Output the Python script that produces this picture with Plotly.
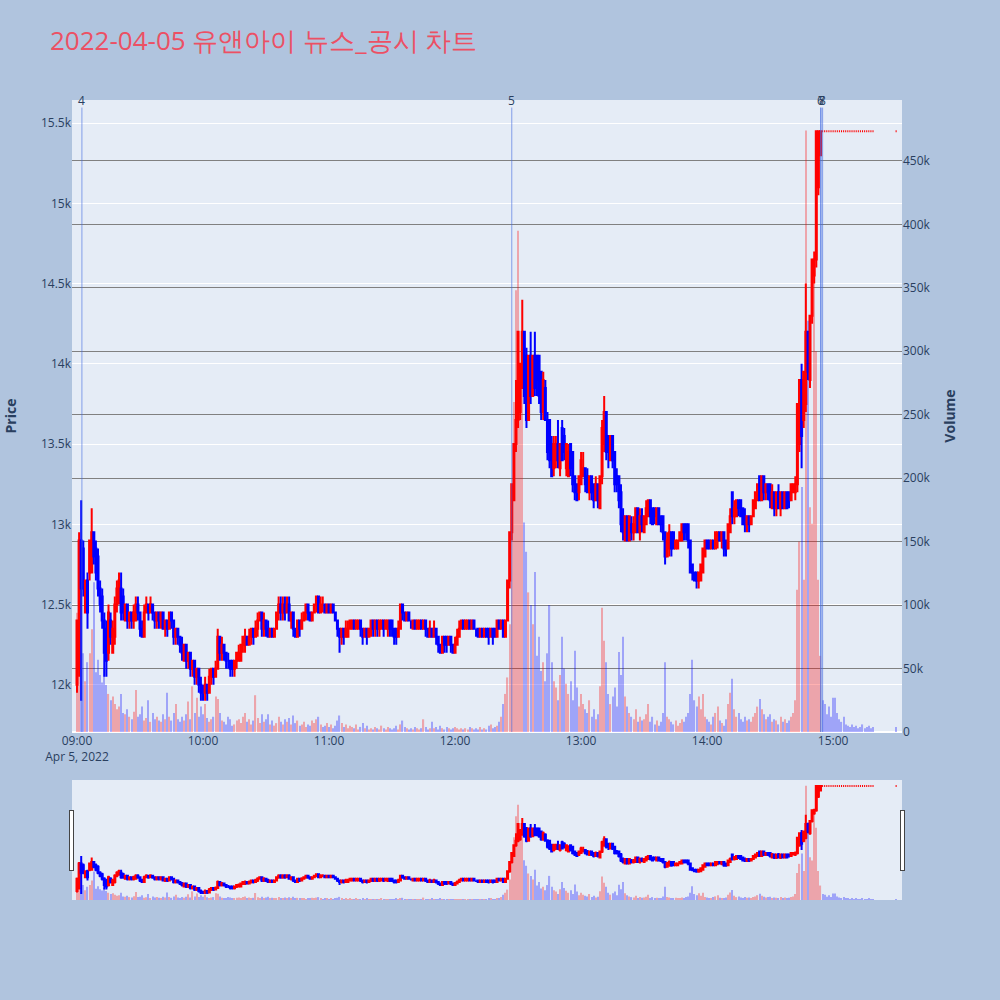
import pandas as pd
import plotly.graph_objects as go
from plotly.subplots import make_subplots

# minute timestamps 09:00 .. 15:19 plus closing auction 15:30
times = list(pd.date_range("2022-04-05 09:00", periods=380, freq="min")) + [pd.Timestamp("2022-04-05 15:30")]

opens = [
    12000, 12100, 12900, 12850, 12450, 12650, 12700, 12700, 12950, 12850,
    12800, 12600, 12550, 12400, 12350, 12200, 12400, 12200, 12300, 12500,
    12550, 12600, 12550, 12400, 12500, 12400, 12450, 12400, 12400, 12500,
    12450, 12350, 12300, 12450, 12500, 12450, 12500, 12450, 12400, 12450,
    12400, 12450, 12350, 12400, 12350, 12450, 12400, 12300, 12350, 12300,
    12250, 12150, 12250, 12150, 12200, 12100, 12150, 12050, 12100, 12000,
    11950, 11950, 12000, 11950, 12050, 12100, 12050, 12100, 12300, 12200,
    12250, 12200, 12150, 12150, 12150, 12100, 12150, 12150, 12150, 12250,
    12250, 12300, 12250, 12300, 12350, 12300, 12350, 12400, 12450, 12350,
    12400, 12350, 12300, 12350, 12300, 12350, 12450, 12500, 12450, 12500,
    12450, 12500, 12400, 12450, 12350, 12300, 12400, 12350, 12400, 12450,
    12500, 12450, 12400, 12450, 12500, 12550, 12450, 12500, 12500, 12450,
    12500, 12450, 12500, 12450, 12400, 12350, 12300, 12350, 12300, 12300,
    12350, 12350, 12400, 12350, 12350, 12400, 12350, 12300, 12350, 12300,
    12350, 12400, 12350, 12400, 12350, 12350, 12400, 12350, 12350, 12400,
    12400, 12350, 12350, 12300, 12350, 12500, 12450, 12400, 12450, 12400,
    12350, 12400, 12350, 12350, 12400, 12350, 12400, 12350, 12300, 12350,
    12300, 12350, 12300, 12250, 12200, 12300, 12300, 12250, 12300, 12250,
    12200, 12250, 12300, 12350, 12400, 12350, 12350, 12400, 12350, 12400,
    12350, 12350, 12300, 12350, 12300, 12350, 12350, 12300, 12350, 12350,
    12300, 12400, 12350, 12400, 12300, 12400, 12650, 12950, 13150, 13500,
    13650, 13700, 13850, 14200, 14050, 13650, 14050, 13800, 14050, 14050,
    14050, 13950, 13700, 13850, 13650, 13650, 13500, 13350, 13400, 13500,
    13350, 13600, 13550, 13350, 13300, 13500, 13450, 13300, 13250, 13200,
    13250, 13300, 13350, 13300, 13200, 13300, 13250, 13150, 13250, 13100,
    13300, 13500, 13700, 13550, 13400, 13550, 13450, 13300, 13300, 13200,
    13050, 12900, 13050, 12900, 13000, 12950, 12950, 13100, 12950, 13050,
    12950, 13000, 13050, 13150, 13100, 13100, 13000, 13100, 13050, 13050,
    12950, 12800, 12850, 12950, 12950, 12850, 12850, 12900, 12900, 13000,
    13000, 13000, 12900, 12750, 12700, 12700, 12650, 12650, 12700, 12800,
    12900, 12900, 12850, 12900, 12850, 12900, 12950, 12900, 12950, 12900,
    12850, 12950, 13200, 13050, 13050, 13150, 13150, 13100, 13050, 13000,
    13050, 13000, 13050, 13100, 13150, 13300, 13150, 13300, 13200, 13250,
    13250, 13100, 13200, 13100, 13200, 13100, 13200, 13100, 13200, 13200,
    13150, 13200, 13200, 13250, 13500, 13900, 13650, 13750, 14200, 13900,
    14300, 14550, 14650, 15100, 15300, 15450, 15450, 15450, 15450, 15450,
    15450, 15450, 15450, 15450, 15450, 15450, 15450, 15450, 15450, 15450,
    15450, 15450, 15450, 15450, 15450, 15450, 15450, 15450, 15450, 15450,
    15450,
]
highs = [
    12400, 12950, 13150, 12900, 12650, 12700, 12900, 13100, 12950, 12900,
    12850, 12650, 12600, 12450, 12400, 12500, 12450, 12400, 12550, 12650,
    12700, 12700, 12600, 12500, 12500, 12450, 12450, 12500, 12550, 12550,
    12450, 12400, 12500, 12550, 12500, 12550, 12500, 12450, 12450, 12450,
    12450, 12450, 12400, 12400, 12450, 12450, 12400, 12350, 12350, 12300,
    12300, 12250, 12250, 12200, 12200, 12150, 12150, 12100, 12100, 12050,
    12000, 12050, 12000, 12100, 12100, 12100, 12150, 12350, 12300, 12300,
    12250, 12200, 12200, 12150, 12150, 12150, 12200, 12250, 12250, 12300,
    12350, 12300, 12350, 12350, 12350, 12400, 12450, 12450, 12450, 12450,
    12400, 12400, 12350, 12350, 12350, 12450, 12550, 12550, 12550, 12550,
    12550, 12550, 12450, 12450, 12350, 12400, 12400, 12450, 12450, 12500,
    12500, 12450, 12450, 12500, 12550, 12550, 12550, 12550, 12500, 12500,
    12500, 12500, 12500, 12450, 12400, 12350, 12350, 12350, 12400, 12400,
    12400, 12400, 12400, 12400, 12400, 12400, 12350, 12350, 12350, 12350,
    12400, 12400, 12400, 12400, 12400, 12400, 12400, 12400, 12400, 12400,
    12400, 12350, 12350, 12400, 12500, 12500, 12450, 12450, 12450, 12400,
    12400, 12400, 12400, 12400, 12400, 12400, 12400, 12350, 12400, 12350,
    12400, 12350, 12300, 12250, 12300, 12300, 12300, 12300, 12300, 12250,
    12300, 12350, 12400, 12400, 12400, 12400, 12400, 12400, 12400, 12400,
    12350, 12350, 12350, 12350, 12350, 12350, 12350, 12350, 12350, 12350,
    12400, 12400, 12400, 12400, 12400, 12650, 12950, 13250, 13500, 13900,
    14200, 14000, 14400, 14200, 14100, 14050, 14200, 14050, 14200, 14050,
    14050, 13950, 13950, 13900, 13700, 13650, 13550, 13550, 13550, 13650,
    13500, 13650, 13600, 13500, 13500, 13500, 13450, 13300, 13250, 13300,
    13450, 13450, 13350, 13350, 13300, 13300, 13250, 13300, 13250, 13300,
    13650, 13800, 13700, 13550, 13550, 13550, 13450, 13350, 13300, 13250,
    13100, 13050, 13050, 13050, 13050, 13050, 13100, 13100, 13100, 13100,
    13050, 13150, 13150, 13150, 13100, 13100, 13100, 13100, 13050, 13050,
    12950, 12950, 13000, 12950, 12950, 12900, 12900, 12950, 13000, 13000,
    13000, 13000, 12900, 12750, 12700, 12700, 12700, 12750, 12850, 12900,
    12900, 12900, 12900, 12900, 12950, 12950, 12950, 12950, 12950, 12900,
    13000, 13100, 13200, 13150, 13150, 13150, 13150, 13100, 13100, 13050,
    13050, 13050, 13150, 13200, 13250, 13300, 13300, 13300, 13250, 13250,
    13250, 13250, 13200, 13200, 13250, 13200, 13200, 13200, 13200, 13200,
    13250, 13250, 13300, 13750, 13900, 14000, 13950, 14500, 14200, 14300,
    14650, 14700, 15450, 15450, 15450, 15450, 15450, 15450, 15450, 15450,
    15450, 15450, 15450, 15450, 15450, 15450, 15450, 15450, 15450, 15450,
    15450, 15450, 15450, 15450, 15450, 15450, 15450, 15450, 15450, 15450,
    15450,
]
lows = [
    11950, 12050, 11900, 12550, 12450, 12350, 12650, 12700, 12750, 12650,
    12550, 12450, 12350, 12050, 12050, 12150, 12250, 12200, 12250, 12450,
    12500, 12400, 12400, 12400, 12350, 12350, 12350, 12350, 12400, 12400,
    12300, 12300, 12300, 12450, 12400, 12450, 12400, 12350, 12350, 12350,
    12350, 12350, 12300, 12300, 12350, 12350, 12250, 12250, 12250, 12200,
    12150, 12150, 12100, 12100, 12050, 12050, 12000, 12000, 11950, 11900,
    11900, 11900, 11900, 11950, 12000, 12000, 12050, 12100, 12150, 12150,
    12150, 12100, 12100, 12050, 12050, 12050, 12100, 12150, 12150, 12200,
    12200, 12250, 12250, 12250, 12250, 12300, 12300, 12400, 12300, 12300,
    12300, 12300, 12300, 12300, 12300, 12350, 12400, 12400, 12400, 12400,
    12450, 12400, 12350, 12300, 12300, 12300, 12300, 12350, 12400, 12400,
    12400, 12400, 12400, 12450, 12450, 12450, 12450, 12450, 12450, 12450,
    12450, 12450, 12450, 12400, 12300, 12200, 12250, 12250, 12300, 12300,
    12350, 12350, 12350, 12350, 12350, 12300, 12250, 12300, 12250, 12300,
    12300, 12300, 12300, 12300, 12300, 12350, 12300, 12350, 12300, 12300,
    12300, 12250, 12250, 12300, 12350, 12400, 12400, 12400, 12400, 12350,
    12350, 12350, 12350, 12350, 12350, 12350, 12300, 12300, 12300, 12300,
    12300, 12250, 12200, 12200, 12200, 12200, 12200, 12250, 12200, 12200,
    12200, 12250, 12300, 12350, 12350, 12350, 12350, 12350, 12350, 12350,
    12300, 12300, 12300, 12300, 12300, 12300, 12250, 12300, 12250, 12300,
    12300, 12350, 12350, 12300, 12300, 12400, 12600, 12900, 13150, 13450,
    13600, 13650, 13850, 13750, 13600, 13650, 13750, 13800, 13800, 13800,
    13750, 13650, 13650, 13650, 13400, 13350, 13300, 13300, 13350, 13350,
    13300, 13400, 13400, 13300, 13300, 13300, 13200, 13150, 13150, 13150,
    13250, 13300, 13200, 13200, 13150, 13150, 13100, 13150, 13100, 13100,
    13250, 13450, 13400, 13350, 13400, 13350, 13200, 13200, 13100, 12950,
    12900, 12900, 12900, 12900, 12900, 12900, 12950, 12950, 12900, 12950,
    12950, 13000, 13050, 13000, 13000, 13000, 13000, 13000, 12950, 12900,
    12750, 12800, 12800, 12800, 12850, 12850, 12850, 12900, 12900, 12900,
    12900, 12850, 12700, 12650, 12650, 12600, 12600, 12650, 12700, 12800,
    12850, 12850, 12850, 12850, 12850, 12850, 12900, 12850, 12800, 12800,
    12850, 12950, 13000, 13000, 13050, 13050, 13050, 13000, 12950, 12950,
    12950, 13000, 13050, 13100, 13150, 13150, 13150, 13150, 13150, 13150,
    13100, 13100, 13050, 13050, 13100, 13050, 13100, 13100, 13100, 13100,
    13150, 13200, 13150, 13200, 13450, 13350, 13600, 13700, 13900, 13850,
    14250, 14500, 14600, 15050, 15300, 15450, 15450, 15450, 15450, 15450,
    15450, 15450, 15450, 15450, 15450, 15450, 15450, 15450, 15450, 15450,
    15450, 15450, 15450, 15450, 15450, 15450, 15450, 15450, 15450, 15450,
    15450,
]
closes = [
    12400, 12900, 12600, 12600, 12650, 12450, 12900, 12950, 12800, 12700,
    12600, 12500, 12400, 12200, 12150, 12450, 12300, 12350, 12500, 12600,
    12650, 12450, 12450, 12500, 12400, 12450, 12400, 12450, 12500, 12450,
    12350, 12300, 12450, 12500, 12450, 12500, 12450, 12400, 12450, 12400,
    12450, 12350, 12400, 12350, 12450, 12400, 12300, 12350, 12300, 12250,
    12200, 12250, 12150, 12200, 12100, 12150, 12050, 12100, 12000, 11950,
    11950, 12000, 11950, 12050, 12100, 12050, 12100, 12300, 12200, 12250,
    12200, 12150, 12150, 12100, 12100, 12150, 12200, 12200, 12250, 12300,
    12300, 12250, 12300, 12350, 12300, 12350, 12400, 12450, 12350, 12400,
    12350, 12300, 12350, 12300, 12350, 12450, 12500, 12450, 12500, 12450,
    12500, 12400, 12450, 12350, 12300, 12400, 12350, 12400, 12450, 12500,
    12450, 12400, 12450, 12500, 12550, 12450, 12500, 12500, 12450, 12500,
    12450, 12500, 12450, 12400, 12350, 12300, 12350, 12300, 12350, 12350,
    12400, 12400, 12350, 12400, 12400, 12350, 12300, 12350, 12300, 12350,
    12400, 12350, 12400, 12350, 12400, 12400, 12350, 12400, 12400, 12350,
    12350, 12300, 12300, 12350, 12500, 12450, 12400, 12450, 12400, 12400,
    12400, 12350, 12400, 12400, 12350, 12400, 12350, 12300, 12350, 12300,
    12350, 12300, 12250, 12200, 12300, 12250, 12250, 12300, 12250, 12200,
    12250, 12300, 12350, 12400, 12350, 12400, 12400, 12350, 12400, 12350,
    12350, 12300, 12350, 12300, 12350, 12300, 12300, 12350, 12300, 12300,
    12400, 12350, 12400, 12300, 12400, 12650, 12950, 13250, 13500, 13650,
    14200, 14000, 14200, 13800, 13650, 14050, 13800, 14050, 13850, 13900,
    13800, 13700, 13900, 13650, 13450, 13400, 13300, 13500, 13500, 13400,
    13500, 13400, 13450, 13500, 13450, 13350, 13250, 13200, 13150, 13300,
    13400, 13350, 13250, 13200, 13300, 13200, 13150, 13250, 13150, 13300,
    13600, 13700, 13450, 13450, 13550, 13400, 13250, 13250, 13150, 13000,
    12950, 13050, 12900, 13050, 12950, 13000, 13100, 12950, 13050, 13000,
    13050, 13100, 13150, 13050, 13000, 13050, 13100, 13000, 13000, 12950,
    12800, 12900, 12950, 12850, 12850, 12900, 12900, 12950, 13000, 12950,
    12950, 12900, 12700, 12700, 12650, 12650, 12700, 12750, 12850, 12900,
    12850, 12850, 12900, 12850, 12950, 12950, 12900, 12950, 12850, 12850,
    13000, 13050, 13050, 13100, 13150, 13100, 13050, 13000, 13000, 13050,
    13000, 13050, 13150, 13200, 13250, 13150, 13300, 13200, 13250, 13200,
    13150, 13200, 13100, 13200, 13100, 13200, 13100, 13200, 13100, 13150,
    13250, 13250, 13250, 13750, 13900, 13550, 13950, 14200, 13950, 14300,
    14650, 14650, 15450, 15450, 15450, 15450, 15450, 15450, 15450, 15450,
    15450, 15450, 15450, 15450, 15450, 15450, 15450, 15450, 15450, 15450,
    15450, 15450, 15450, 15450, 15450, 15450, 15450, 15450, 15450, 15450,
    15450,
]
volumes = [
    94000, 60000, 49000, 62000, 40000, 55000, 62000, 81000, 118000, 47000,
    57000, 45000, 39000, 50000, 37000, 30000, 25000, 28000, 22000, 18000,
    20000, 30000, 15000, 14000, 18000, 12000, 10000, 16000, 33000, 12000,
    14000, 20000, 9000, 11000, 25000, 8000, 15000, 10000, 12000, 9000,
    8000, 14000, 10000, 31000, 12000, 9000, 15000, 22000, 10000, 8000,
    12000, 9000, 14000, 24000, 10000, 36000, 15000, 27000, 12000, 20000,
    14000, 22000, 11000, 8000, 10000, 12000, 28000, 26000, 15000, 9000,
    8000, 6000, 12000, 10000, 5000, 6000, 9000, 10000, 7000, 12000,
    15000, 8000, 10000, 6000, 9000, 29000, 11000, 7000, 14000, 8000,
    10000, 14000, 6000, 9000, 5000, 7000, 12000, 8000, 6000, 10000,
    8000, 11000, 6000, 13000, 7000, 9000, 5000, 6000, 8000, 4000,
    6000, 5000, 9000, 7000, 10000, 12000, 6000, 4000, 5000, 7000,
    4000, 6000, 3000, 5000, 9000, 13000, 7000, 4000, 6000, 3000,
    5000, 4000, 3000, 6000, 2000, 4000, 7000, 3000, 5000, 2000,
    3000, 2000, 4000, 3000, 2000, 5000, 3000, 2000, 4000, 3000,
    2000, 3000, 5000, 2000, 6000, 9000, 4000, 3000, 2000, 3000,
    2000, 4000, 3000, 2000, 3000, 10000, 4000, 2000, 3000, 8000,
    3000, 4000, 2000, 5000, 3000, 2000, 4000, 3000, 2000, 3000,
    4000, 3000, 2000, 3000, 2000, 3000, 2000, 4000, 3000, 2000,
    3000, 2000, 4000, 2000, 3000, 2000, 5000, 6000, 3000, 4000,
    5000, 8000, 12000, 22000, 30000, 43000, 85000, 160000, 260000, 348000,
    395000, 280000, 310000, 165000, 142000, 110000, 100000, 85000, 126000, 60000,
    75000, 48000, 55000, 40000, 62000, 100000, 55000, 40000, 35000, 25000,
    45000, 75000, 50000, 38000, 30000, 40000, 25000, 64000, 35000, 20000,
    30000, 22000, 18000, 15000, 25000, 12000, 18000, 10000, 14000, 36000,
    98000, 72000, 55000, 30000, 22000, 28000, 35000, 20000, 63000, 45000,
    75000, 28000, 20000, 15000, 12000, 10000, 18000, 8000, 12000, 9000,
    10000, 14000, 22000, 8000, 12000, 6000, 9000, 5000, 8000, 15000,
    55000, 12000, 10000, 8000, 6000, 9000, 5000, 7000, 10000, 8000,
    12000, 15000, 30000, 57000, 25000, 20000, 28000, 18000, 30000, 12000,
    10000, 8000, 6000, 12000, 15000, 20000, 9000, 7000, 5000, 10000,
    22000, 31000, 42000, 18000, 12000, 15000, 10000, 8000, 12000, 9000,
    10000, 8000, 12000, 15000, 20000, 26000, 18000, 14000, 10000, 12000,
    14000, 8000, 10000, 9000, 6000, 12000, 8000, 10000, 7000, 9000,
    12000, 15000, 25000, 112000, 150000, 193000, 120000, 474000, 324000, 177000,
    164000, 365000, 300000, 120000, 60000, 25000, 22000, 14000, 20000, 12000,
    27000, 27000, 15000, 10000, 8000, 12000, 6000, 5000, 4000, 6000,
    4000, 5000, 3000, 4000, 6000, 3000, 4000, 5000, 3000, 4000,
    4000,
]

news_times = ["2022-04-05 09:02:20", "2022-04-05 12:27:00",
              "2022-04-05 14:54:00", "2022-04-05 14:54:20", "2022-04-05 14:55:00"]
news_labels = ["4", "5", "6", "7", "8"]

vol_colors = ["red" if c > o else "blue" for o, c in zip(opens, closes)]

fig = make_subplots(specs=[[{"secondary_y": True}]])
fig.add_trace(go.Candlestick(
    x=times, open=opens, high=highs, low=lows, close=closes, name="Price",
    increasing=dict(line=dict(color="red", width=2), fillcolor="red"),
    decreasing=dict(line=dict(color="blue", width=2), fillcolor="blue"),
    showlegend=False), secondary_y=False)
fig.add_trace(go.Bar(
    x=times, y=volumes, name="Volume", marker=dict(color=vol_colors, line=dict(width=0)),
    opacity=0.3, showlegend=False), secondary_y=True)

for t, lab in zip(news_times, news_labels):
    fig.add_shape(type="line", xref="x", yref="paper", x0=t, x1=t, y0=0, y1=0.988,
                  line=dict(color="royalblue", width=1), opacity=0.6)
    fig.add_annotation(x=t, y=1, xref="x", yref="paper", text=lab, showarrow=False,
                       xanchor="center", yanchor="middle",
                       font=dict(size=12, color="#2a3f5f"))

fig.update_layout(
    width=1000, height=1000,
    title=dict(text="2022-04-05 유앤아이 뉴스_공시 차트", x=0.05, xanchor="left",
               y=0.959, yanchor="middle", font=dict(size=26, color="rgb(236,80,100)")),
    paper_bgcolor="lightsteelblue",
    margin=dict(l=72, r=98, t=100, b=100),
    showlegend=False,
    bargap=0.45,
)
fig.update_xaxes(showgrid=False, domain=[0, 1],
                 range=["2022-04-05 08:57:37", "2022-04-05 15:32:48"],
                 rangeslider=dict(visible=True, thickness=0.15))
fig.update_yaxes(title_text="<b>Price</b>", title_standoff=21, range=[11706, 15644], dtick=500,
                 automargin=False, secondary_y=False)
fig.update_yaxes(title_text="<b>Volume</b>", range=[0, 498000], dtick=50000,
                 showgrid=True, gridcolor="gray", automargin=False, secondary_y=True)

fig.write_html("out.html", config={"displayModeBar": False},
               post_script="document.body.style.margin='0px';")
